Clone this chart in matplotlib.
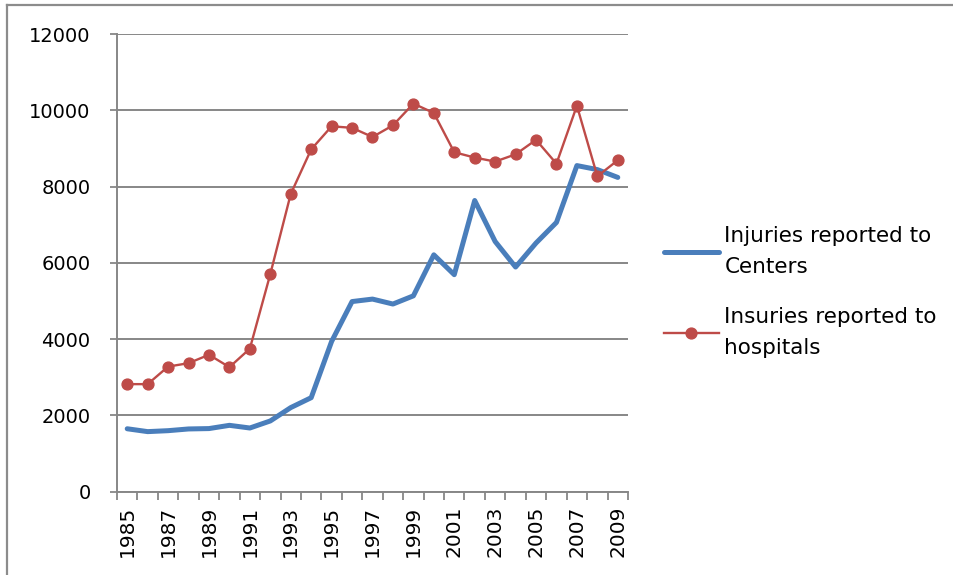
import matplotlib
matplotlib.use("Agg")
import matplotlib.pyplot as plt
from matplotlib.lines import Line2D
import numpy as np

years = list(range(1985, 2010))
centers = [1650, 1575, 1600, 1645, 1655, 1740, 1670, 1855, 2205, 2465,
           3940, 4985, 5050, 4920, 5135, 6210, 5690, 7635, 6560, 5890,
           6520, 7060, 8550, 8445, 8240]
hospitals = [2820, 2820, 3280, 3370, 3590, 3265, 3750, 5705, 7805, 8975,
             9580, 9540, 9300, 9605, 10175, 9930, 8900, 8760, 8655, 8845,
             9225, 8600, 10120, 8270, 8690]
labels = ["Injuries reported to\nCenters", "Insuries reported to\nhospitals"]
yticks = [0, 2000, 4000, 6000, 8000, 10000, 12000]

W, H = 954, 575
fig = plt.figure(figsize=(W / 100, H / 100), dpi=100)
plt.rcParams['font.family'] = ['DejaVu Sans']

ax = fig.add_axes([117 / W, 1 - 491.7 / H, (628 - 117) / W, (491.7 - 34) / H])

grid_c = "#878787"
blue = "#4A7EBB"
red = "#BE4B48"

x = np.arange(len(years))
ax.plot(x, centers, color=blue, lw=3.6, solid_capstyle="round", solid_joinstyle="round", zorder=3)
ax.plot(x, hospitals, color=red, lw=1.7, marker="o", markersize=7.8, zorder=4)

ax.set_xlim(-0.5, len(years) - 0.5)
ax.set_ylim(0, 12000)
ax.set_yticks(yticks)
ax.set_yticklabels([str(v) for v in yticks], fontsize=14)
ax.yaxis.grid(True, color=grid_c, lw=1.4)
ax.set_axisbelow(True)

ax.set_xticks(x[::2])
ax.set_xticklabels([str(y) for y in years[::2]], rotation=90, fontsize=14.5)
ax.set_xticks(np.arange(-0.5, len(years)), minor=True)
ax.tick_params(axis="x", which="major", length=0, pad=10)
ax.tick_params(axis="x", which="minor", length=5.5, width=1.3, color=grid_c)
ax.tick_params(axis="y", length=5, width=1.3, color=grid_c, pad=14)

for s in ["top", "right"]:
    ax.spines[s].set_visible(False)
for s in ["left", "bottom"]:
    ax.spines[s].set_color(grid_c)
    ax.spines[s].set_linewidth(1.4)

handles = [Line2D([], [], color=blue, lw=3.6, solid_capstyle="round"),
           Line2D([], [], color=red, lw=1.7, marker="o", markersize=7.8)]
leg = fig.legend(handles, labels, loc="center left",
                 bbox_to_anchor=(664 / W, 1 - 292 / H), frameon=False,
                 fontsize=15.5, handlelength=2.55, handletextpad=0.25,
                 labelspacing=1.43, borderpad=0, borderaxespad=0)
for t in leg.get_texts():
    t.set_linespacing(1.65)

# outer chart frame (left and top edges visible)
fc = "#8c8c8c"
fig.add_artist(Line2D([7.5 / W, 7.5 / W], [0, 1 - 4.5 / H], color=fc, lw=1.6, transform=fig.transFigure))
fig.add_artist(Line2D([7.5 / W, 1], [1 - 4.5 / H, 1 - 4.5 / H], color=fc, lw=1.6, transform=fig.transFigure))

fig.savefig("out.png", dpi=100)
